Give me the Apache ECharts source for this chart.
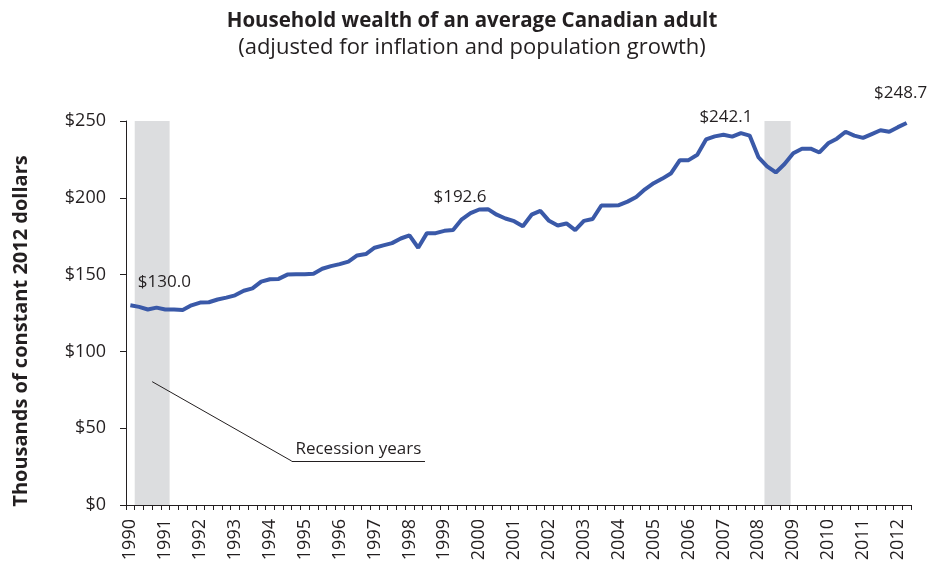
<!DOCTYPE html>
<html>
<head>
<meta charset="utf-8">
<title>Household wealth of an average Canadian adult</title>
<script src="https://cdn.jsdelivr.net/npm/echarts@6/dist/echarts.min.js"></script>
<style>
  html, body { margin: 0; padding: 0; background: #fff; }
  #chart { width: 944px; height: 565px; }
</style>
</head>
<body>
<div id="chart"></div>
<script>
// quarterly values, 1990 Q1 .. 2012 Q2 (thousands of 2012 dollars)
const wealth = [
  130.0, 129.0, 127.3, 128.5, 127.3, 127.2, 127.0, 130.0, 131.8, 132.0,
  133.8, 135.0, 136.5, 139.5, 141.0, 145.4, 147.0, 147.2, 150.0, 150.2,
  150.2, 150.6, 153.8, 155.5, 156.8, 158.5, 162.5, 163.4, 167.5, 169.0,
  170.5, 173.5, 175.5, 167.5, 177.0, 177.0, 178.5, 179.0, 186.0, 190.0,
  192.4, 192.6, 189.0, 186.5, 184.8, 181.5, 189.0, 191.5, 185.0, 182.0,
  183.3, 179.0, 185.0, 186.2, 195.0, 195.0, 195.2, 197.5, 200.5, 205.5,
  209.5, 212.5, 216.0, 224.5, 224.5, 228.0, 238.0, 240.0, 241.0, 239.8,
  242.1, 240.5, 226.5, 220.5, 216.5, 222.0, 229.0, 232.0, 232.0, 229.5,
  235.5, 238.5, 243.0, 240.5, 239.0, 241.5, 244.0, 243.0, 246.0, 248.7
];

// category for each quarter, label shown only on Q1
const quarters = wealth.map((_, i) => (1990 + Math.floor(i / 4)) + 'Q' + (i % 4 + 1));

// points that get a value label
const labelIdx = [0, 41, 70, 89];

// shaded recession periods, in decimal years
const recessionStart = [1990.25, 2008.3];
const recessionEnd = [1991.25, 2009.05];

// callout for "Recession years" (year, value)
const calloutFrom = [1990.75, 80.3];
const calloutKnee = [1994.75, 28.6];
const calloutTo = [1998.57, 28.6];

const yTicks = [0, 50, 100, 150, 200, 250];

const font = '"Open Sans", "Noto Sans", sans-serif';
const lineColor = '#3a59a8';
const textColor = '#231f20';

// label offsets (px) relative to each labelled point
const labelOffset = [[34, -23], [-28, -12], [-15, -16], [-6, -30]];

const chart = echarts.init(document.getElementById('chart'));

const option = {
  backgroundColor: '#fff',
  animation: false,
  textStyle: { fontFamily: font },
  title: [
    {
      text: 'Household wealth of an average Canadian adult',
      left: 'center',
      top: 6,
      textStyle: { fontFamily: font, fontSize: 20.5, fontWeight: 'bold', color: textColor }
    },
    {
      text: '(adjusted for inflation and population growth)',
      left: 'center',
      top: 32,
      textStyle: { fontFamily: font, fontSize: 22, fontWeight: 'normal', color: textColor }
    }
  ],
  grid: { left: 126, right: 33, top: 121, bottom: 60, containLabel: false },
  xAxis: [
    {
      type: 'category',
      data: quarters,
      boundaryGap: true,
      axisLine: { lineStyle: { color: '#231f20', width: 1 } },
      axisTick: { show: true, interval: 0, length: 5, lineStyle: { color: '#231f20' } },
      axisLabel: {
        interval: (idx) => idx % 4 === 0,
        formatter: (v) => v.slice(0, 4),
        rotate: 90,
        margin: 14,
        fontSize: 18,
        fontFamily: font,
        color: textColor
      },
      splitLine: { show: false }
    },
    {
      // hidden continuous axis for bands and callout
      type: 'value',
      min: 1990,
      max: 2012.5,
      show: false
    }
  ],
  yAxis: {
    type: 'value',
    min: yTicks[0],
    max: yTicks[yTicks.length - 1],
    interval: 50,
    axisLine: { show: true, lineStyle: { color: '#231f20', width: 1 } },
    axisTick: { show: true, length: 6, lineStyle: { color: '#231f20' } },
    axisLabel: {
      formatter: (v) => '$' + v,
      margin: 20,
      fontSize: 18,
      fontFamily: font,
      color: textColor
    },
    splitLine: { show: false }
  },
  graphic: [
    {
      type: 'text',
      x: 21,
      y: 331,
      rotation: Math.PI / 2,
      style: {
        text: 'Thousands of constant 2012 dollars',
        font: 'bold 20px ' + font,
        fill: textColor,
        align: 'center',
        verticalAlign: 'middle'
      }
    }
  ],
  series: [
    {
      name: 'Recession',
      type: 'line',
      xAxisIndex: 1,
      data: [],
      silent: true,
      z: 1,
      markArea: {
        silent: true,
        itemStyle: { color: '#dcdddf' },
        data: recessionStart.map((s, i) => [{ xAxis: s }, { xAxis: recessionEnd[i] }])
      },
      markLine: {
        silent: true,
        symbol: ['none', 'none'],
        lineStyle: { color: '#231f20', width: 1, type: 'solid' },
        label: { show: false },
        data: [
          [{ coord: calloutFrom }, { coord: calloutKnee }],
          [
            { coord: calloutKnee },
            {
              coord: calloutTo,
              label: {
                show: true,
                formatter: 'Recession years',
                position: 'insideMiddleTop',
                distance: 3,
                fontSize: 17,
                fontFamily: font,
                color: textColor
              }
            }
          ]
        ]
      }
    },
    {
      name: 'Wealth',
      type: 'line',
      data: wealth,
      showSymbol: false,
      z: 3,
      lineStyle: { color: lineColor, width: 4 },
      itemStyle: { color: lineColor },
      markPoint: {
        silent: true,
        symbolSize: 0,
        data: labelIdx.map((idx, k) => ({
          coord: [idx, wealth[idx]],
          value: wealth[idx],
          label: {
            show: true,
            position: 'inside',
            offset: labelOffset[k],
            formatter: '$' + wealth[idx].toFixed(1),
            fontSize: 17,
            fontFamily: font,
            color: textColor
          }
        }))
      }
    }
  ]
};

chart.setOption(option);
</script>
</body>
</html>
